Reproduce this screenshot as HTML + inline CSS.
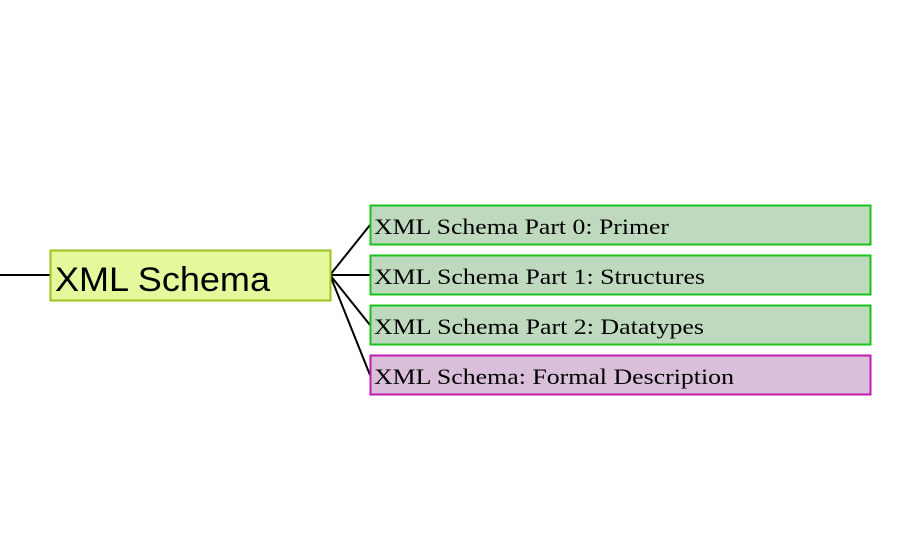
<!DOCTYPE html>
<html><head><style>
body{margin:0;width:900px;height:550px;background:#fff;overflow:hidden}
</style></head><body>
<svg width="900" height="550" xmlns="http://www.w3.org/2000/svg">
<g stroke="#000" stroke-width="2" fill="none">
<line x1="0" y1="275" x2="50" y2="275"/>
<line x1="330" y1="275" x2="370" y2="225"/>
<line x1="330" y1="275" x2="370" y2="275"/>
<line x1="330" y1="275" x2="370" y2="325"/>
<line x1="330" y1="275" x2="370" y2="375"/>
</g>
<rect x="50.5" y="250.5" width="280" height="50" fill="#e3f99c" stroke="#9cc21c" stroke-width="2"/>
<text x="55" y="291" font-family="Liberation Sans, sans-serif" font-size="34" textLength="215" lengthAdjust="spacingAndGlyphs" fill="#000">XML Schema</text>
<g stroke-width="2">
<rect x="370.5" y="205.5" width="500" height="39" fill="#bfd9bf" stroke="#1ac31a"/>
<rect x="370.5" y="255.5" width="500" height="39" fill="#bfd9bf" stroke="#1ac31a"/>
<rect x="370.5" y="305.5" width="500" height="39" fill="#bfd9bf" stroke="#1ac31a"/>
<rect x="370.5" y="355.5" width="500" height="39" fill="#d9bfd9" stroke="#c31ab0"/>
</g>
<g font-family="Liberation Serif, serif" font-size="22" fill="#000">
<text x="374" y="234" textLength="295" lengthAdjust="spacingAndGlyphs">XML Schema Part 0: Primer</text>
<text x="374" y="284" textLength="331" lengthAdjust="spacingAndGlyphs">XML Schema Part 1: Structures</text>
<text x="374" y="334" textLength="330" lengthAdjust="spacingAndGlyphs">XML Schema Part 2: Datatypes</text>
<text x="374" y="384" textLength="360" lengthAdjust="spacingAndGlyphs">XML Schema: Formal Description</text>
</g>
</svg>
</body></html>
